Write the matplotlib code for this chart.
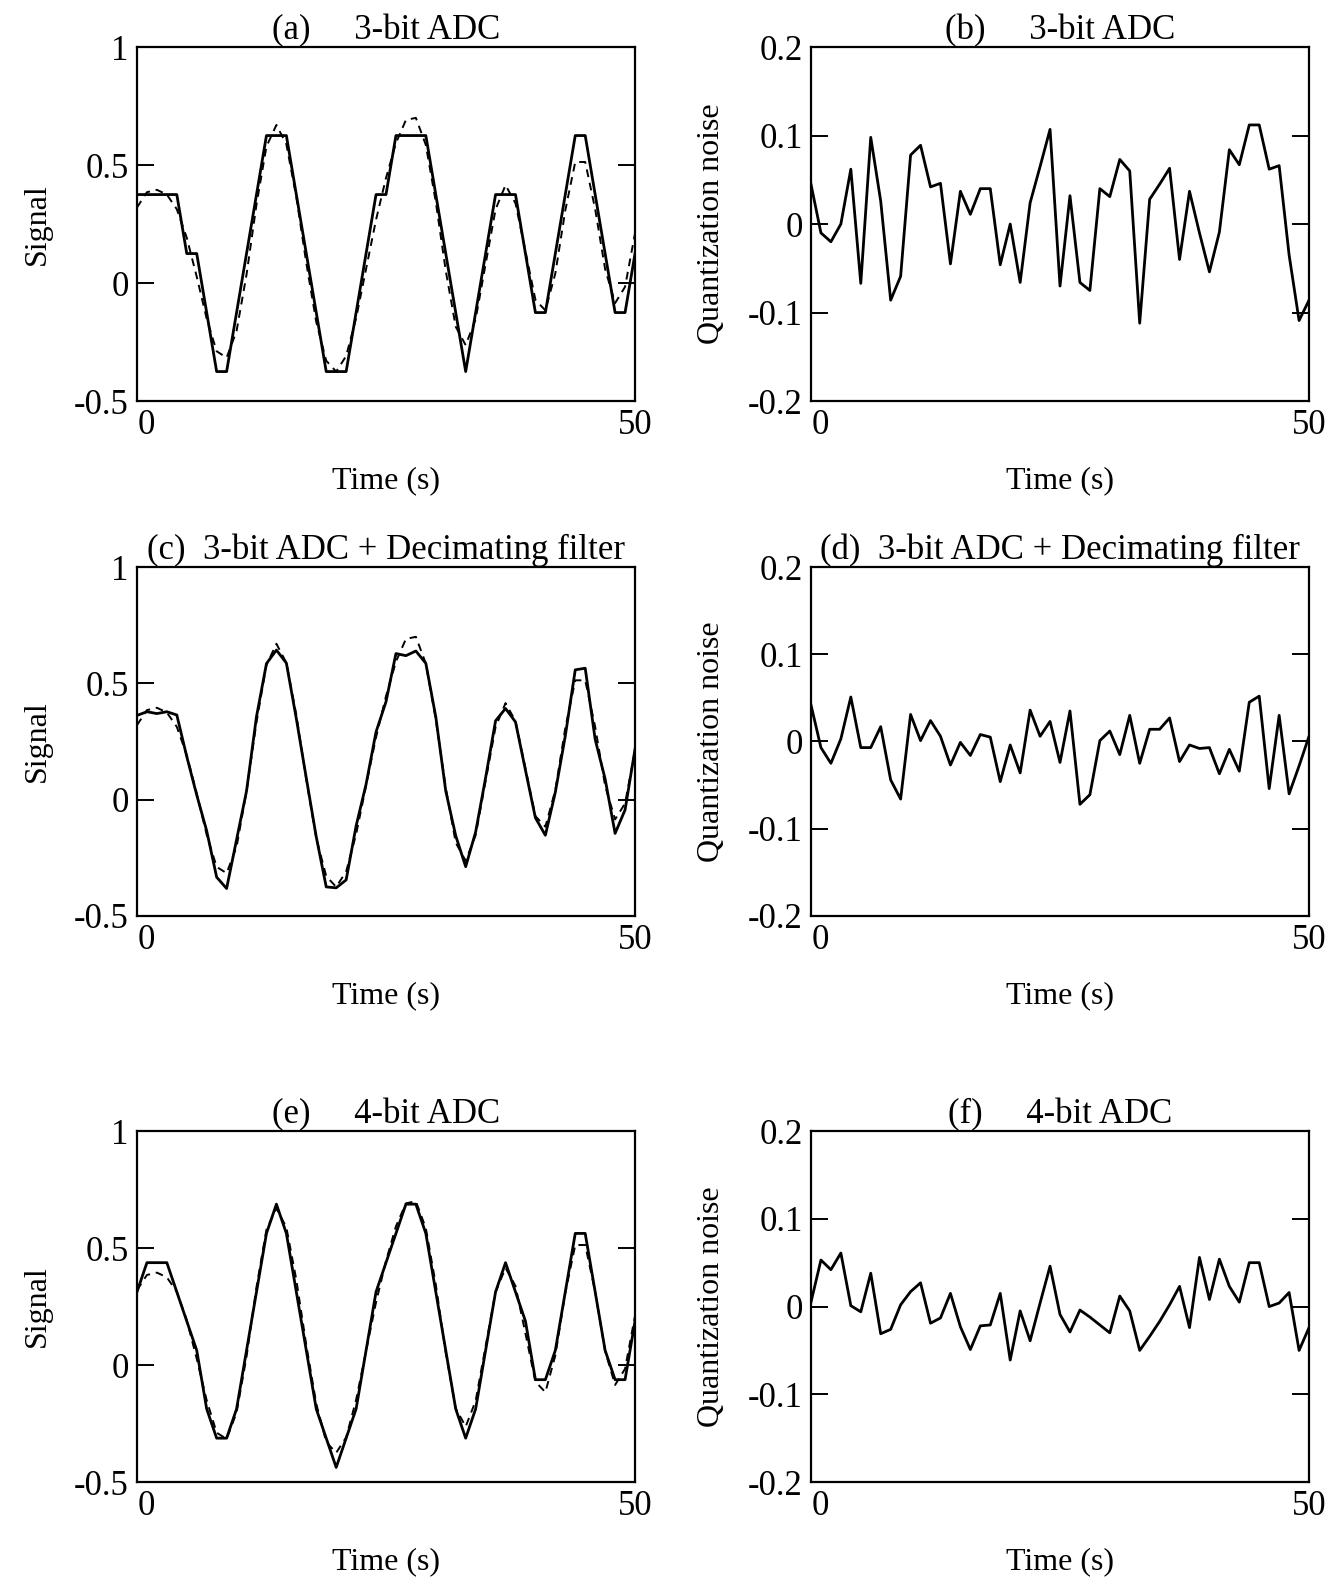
import matplotlib
matplotlib.use("Agg")
import matplotlib.pyplot as plt
import matplotlib.transforms as mtransforms
import numpy as np

plt.rcParams['font.family'] = ['Liberation Serif', 'DejaVu Serif']
plt.rcParams['axes.unicode_minus'] = False

# time axis (s), one sample per second
time_s = list(range(51))

# true (unquantized) signal, dashed in the left panels
true_signal = [0.32, 0.385, 0.395, 0.375, 0.313, 0.192, 0.027, -0.151, -0.289, -0.316,
               -0.203, 0.036, 0.333, 0.579, 0.670, 0.588, 0.364, 0.085, -0.165, -0.329,
               -0.375, -0.309, -0.149, 0.060, 0.268, 0.445, 0.593, 0.691, 0.700, 0.585,
               0.344, 0.052, -0.185, -0.263, -0.153, 0.080, 0.312, 0.415, 0.338, 0.135,
               -0.071, -0.116, 0.041, 0.308, 0.513, 0.513, 0.313, 0.059, -0.085, -0.016,
               0.211]

# (a) 3-bit ADC output
adc3 = [0.375, 0.375, 0.375, 0.375, 0.375, 0.125, 0.125, -0.125, -0.375, -0.375,
        -0.125, 0.125, 0.375, 0.625, 0.625, 0.625, 0.375, 0.125, -0.125, -0.375,
        -0.375, -0.375, -0.125, 0.125, 0.375, 0.375, 0.625, 0.625, 0.625, 0.625,
        0.375, 0.125, -0.125, -0.375, -0.125, 0.125, 0.375, 0.375, 0.375, 0.125,
        -0.125, -0.125, 0.125, 0.375, 0.625, 0.625, 0.375, 0.125, -0.125, -0.125,
        0.125]

# (b) 3-bit quantization noise
noise3 = [0.045, -0.010, -0.020, 0.000, 0.062, -0.067, 0.098, 0.026, -0.086, -0.059,
          0.078, 0.089, 0.042, 0.046, -0.045, 0.037, 0.011, 0.040, 0.040, -0.046,
          0.000, -0.066, 0.024, 0.065, 0.107, -0.070, 0.032, -0.066, -0.075, 0.040,
          0.031, 0.073, 0.060, -0.112, 0.028, 0.045, 0.063, -0.040, 0.037, -0.010,
          -0.054, -0.009, 0.084, 0.067, 0.112, 0.112, 0.062, 0.066, -0.035, -0.109,
          -0.086]

# (c) 3-bit ADC + decimating filter output
adc3_filt = [0.362, 0.378, 0.370, 0.378, 0.364, 0.185, 0.020, -0.134, -0.333, -0.382,
             -0.172, 0.037, 0.357, 0.585, 0.643, 0.587, 0.348, 0.093, -0.160, -0.375,
             -0.379, -0.345, -0.113, 0.066, 0.291, 0.421, 0.628, 0.619, 0.639, 0.586,
             0.356, 0.037, -0.155, -0.288, -0.139, 0.094, 0.339, 0.392, 0.334, 0.127,
             -0.078, -0.153, 0.032, 0.274, 0.558, 0.565, 0.259, 0.089, -0.145, -0.044,
             0.217]

# (d) noise after decimating filter
noise3_filt = [0.042, -0.007, -0.025, 0.003, 0.051, -0.007, -0.007, 0.017, -0.044, -0.066,
               0.031, 0.001, 0.024, 0.006, -0.027, -0.001, -0.016, 0.008, 0.005, -0.046,
               -0.004, -0.036, 0.036, 0.006, 0.023, -0.024, 0.035, -0.072, -0.061, 0.001,
               0.012, -0.015, 0.030, -0.025, 0.014, 0.014, 0.027, -0.023, -0.004, -0.008,
               -0.007, -0.037, -0.009, -0.034, 0.045, 0.052, -0.054, 0.030, -0.060, -0.028,
               0.006]

# (e) 4-bit ADC output
adc4 = [0.3125, 0.4375, 0.4375, 0.4375, 0.3125, 0.1875, 0.0625, -0.1875, -0.3125, -0.3125,
        -0.1875, 0.0625, 0.3125, 0.5625, 0.6875, 0.5625, 0.3125, 0.0625, -0.1875, -0.3125,
        -0.4375, -0.3125, -0.1875, 0.0625, 0.3125, 0.4375, 0.5625, 0.6875, 0.6875, 0.5625,
        0.3125, 0.0625, -0.1875, -0.3125, -0.1875, 0.0625, 0.3125, 0.4375, 0.3125, 0.1875,
        -0.0625, -0.0625, 0.0625, 0.3125, 0.5625, 0.5625, 0.3125, 0.0625, -0.0625, -0.0625,
        0.1875]

# (f) 4-bit quantization noise
noise4 = [0.005, 0.053, 0.042, 0.061, 0.001, -0.006, 0.038, -0.031, -0.026, 0.002,
          0.017, 0.027, -0.019, -0.013, 0.015, -0.023, -0.049, -0.022, -0.021, 0.015,
          -0.061, -0.005, -0.039, 0.004, 0.046, -0.009, -0.029, -0.004, -0.012, -0.021,
          -0.030, 0.012, -0.005, -0.050, -0.034, -0.017, 0.002, 0.023, -0.024, 0.056,
          0.008, 0.054, 0.023, 0.005, 0.050, 0.050, 0.000, 0.004, 0.016, -0.050,
          -0.024]

titles = ["(a)     3-bit ADC", "(b)     3-bit ADC",
          "(c)  3-bit ADC + Decimating filter", "(d)  3-bit ADC + Decimating filter",
          "(e)     4-bit ADC", "(f)     4-bit ADC"]

sig_ticks = [-0.5, 0, 0.5, 1]
sig_ticklabels = ["-0.5", "0", "0.5", "1"]
noise_ticks = [-0.2, -0.1, 0, 0.1, 0.2]
noise_ticklabels = ["-0.2", "-0.1", "0", "0.1", "0.2"]

fig = plt.figure(figsize=(13.31, 15.79), dpi=100)

col_x = [0.1029, 0.6093]
col_w = 0.3742
rows = [(0.7460, 0.2242), (0.4199, 0.2210), (0.0614, 0.2223)]

quantized = [adc3, adc3_filt, adc4]
noises = [noise3, noise3_filt, noise4]

TICK_FS = 25
LABEL_FS = 23
TITLE_FS = 25


def style_axes(ax, ticks, ticklabels, ylabel):
    ax.set_xlim(0, 50)
    ax.set_ylim(ticks[0], ticks[-1])
    ax.set_xticks([0, 50])
    ax.set_xticklabels(["0", "50"], fontsize=TICK_FS)
    ax.set_yticks(ticks)
    ax.set_yticklabels(ticklabels, fontsize=TICK_FS)
    ax.tick_params(axis='y', direction='in', length=12, width=1.4,
                   left=True, right=True, pad=6)
    ax.tick_params(axis='x', direction='in', length=0, pad=6)
    for sp in ax.spines.values():
        sp.set_linewidth(1.6)
    ax.set_xlabel("Time (s)", fontsize=LABEL_FS, labelpad=17)
    ax.set_ylabel(ylabel, fontsize=LABEL_FS, labelpad=16)
    # nudge the "0" under the corner to the right as in the print
    lab0 = ax.xaxis.get_major_ticks()[0].label1
    offset = mtransforms.ScaledTranslation(9 / 100, 0, fig.dpi_scale_trans)
    lab0.set_transform(lab0.get_transform() + offset)


for r, (y0, h) in enumerate(rows):
    # left: signal
    ax = fig.add_axes([col_x[0], y0, col_w, h])
    ax.plot(time_s, true_signal, color='black', lw=1.4, ls=(0, (4, 3)))
    ax.plot(time_s, quantized[r], color='black', lw=2.0)
    style_axes(ax, sig_ticks, sig_ticklabels, "Signal")
    ax.set_title(titles[2 * r], fontsize=TITLE_FS, pad=2)

    # right: quantization noise
    ax = fig.add_axes([col_x[1], y0, col_w, h])
    ax.plot(time_s, noises[r], color='black', lw=2.0)
    style_axes(ax, noise_ticks, noise_ticklabels, "Quantization noise")
    ax.set_title(titles[2 * r + 1], fontsize=TITLE_FS, pad=2)

fig.savefig("out.png", dpi=100)
